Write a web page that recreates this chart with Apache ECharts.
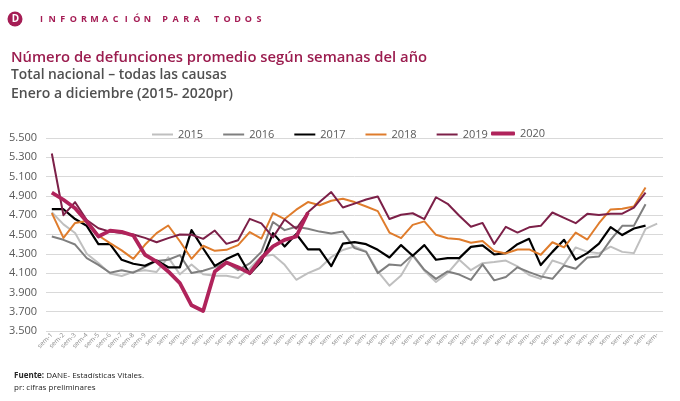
<!DOCTYPE html>
<html>
<head>
<meta charset="utf-8">
<script src="https://cdn.jsdelivr.net/npm/echarts@6/dist/echarts.min.js"></script>
<style>
html,body{margin:0;padding:0;background:#fff;}
#c{width:680px;height:401px;}
</style>
</head>
<body>
<div id="c"></div>
<script>
const weeks = [];
for (let i = 1; i <= 53; i++) weeks.push('sem-' + i);

const yTicks = [3500, 3700, 3900, 4100, 4300, 4500, 4700, 4900, 5100, 5300, 5500];

const s2015 = [4730,4605,4515,4300,4205,4095,4070,4113,4130,4112,4263,4087,4190,4087,4072,4072,4050,4150,4272,4290,4186,4031,4100,4150,4265,4340,4376,4324,4117,3970,4075,4280,4125,4008,4100,4238,4130,4203,4214,4230,4170,4080,4040,4230,4190,4366,4320,4305,4374,4320,4307,4558,4612];
const s2016 = [4479,4445,4396,4255,4186,4104,4130,4104,4165,4226,4238,4287,4100,4124,4162,4210,4130,4200,4320,4630,4545,4580,4560,4530,4510,4530,4359,4320,4100,4190,4180,4290,4134,4040,4117,4085,4030,4190,4025,4060,4160,4110,4066,4041,4179,4145,4262,4272,4445,4590,4590,4814];
const s2017 = [4762,4762,4660,4590,4400,4400,4238,4197,4176,4230,4160,4160,4545,4355,4175,4245,4300,4090,4220,4514,4376,4505,4345,4345,4172,4405,4421,4400,4341,4262,4390,4280,4390,4238,4255,4255,4372,4388,4293,4307,4400,4455,4183,4320,4445,4240,4307,4405,4576,4494,4562,4592];
const s2018 = [4721,4465,4620,4641,4490,4410,4335,4248,4393,4514,4593,4430,4248,4383,4331,4341,4390,4525,4458,4721,4660,4757,4836,4803,4850,4870,4836,4790,4742,4520,4462,4600,4636,4497,4462,4450,4415,4432,4328,4304,4345,4345,4290,4420,4366,4520,4448,4617,4760,4767,4790,4988];
const s2019 = [5340,4700,4835,4650,4565,4530,4515,4500,4465,4420,4462,4500,4497,4455,4541,4403,4440,4662,4615,4470,4655,4560,4730,4836,4940,4780,4820,4862,4893,4660,4705,4720,4660,4886,4818,4695,4580,4620,4402,4580,4520,4574,4590,4728,4672,4617,4714,4703,4716,4716,4778,4934];
const s2020 = [4935,4860,4772,4635,4480,4540,4527,4490,4290,4220,4117,3997,3766,3708,4117,4210,4160,4100,4255,4376,4445,4479,4728];

const seriesNames = ['2015','2016','2017','2018','2019','2020'];
const seriesData = [s2015, s2016, s2017, s2018, s2019, s2020];
const colors = ['#bfbfbf','#7f7f7f','#000000','#df7c2c','#7c2048','#b0235b'];
const widths = [2,2,2.2,2,2,3.8];

const chart = echarts.init(document.getElementById('c'), null, {renderer:'canvas'});
const FONT = '"Open Sans", "Noto Sans", sans-serif';

// header letters, spread out
const header = [];
const words = ['INFORMACIÓN', 'PARA', 'TODOS'];
const wordStarts = [41.5, 165, 216.5];
words.forEach((w, wi) => {
  for (let k = 0; k < w.length; k++) {
    header.push({ type: 'text', x: wordStarts[wi] + 10.6 * k, y: 19,
      style: { text: w[k], fill: '#a51d55', font: 'bold 9px ' + FONT, align: 'center', verticalAlign: 'middle' } });
  }
});

const legendText = { color: '#595959', fontSize: 11, fontFamily: FONT };

chart.setOption({
  animation: false,
  backgroundColor: '#ffffff',
  textStyle: { fontFamily: FONT },
  title: [
    { text: 'Número de defunciones promedio según semanas del año', left: 6, top: 45,
      textStyle: { color: '#9b1d4f', fontSize: 14.8, fontWeight: 600, fontFamily: FONT } },
    { text: 'Total nacional – todas las causas', left: 6, top: 63,
      textStyle: { color: '#505050', fontSize: 13.8, fontWeight: 600, fontFamily: FONT } },
    { text: 'Enero a diciembre (2015- 2020pr)', left: 6, top: 82,
      textStyle: { color: '#505050', fontSize: 14, fontWeight: 600, fontFamily: FONT } }
  ],
  graphic: [
    { type: 'circle', shape: { cx: 15, cy: 19, r: 7.5 }, style: { fill: '#a51d55' } },
    { type: 'text', x: 15.5, y: 19.5, style: { text: 'D', fill: '#ffffff', font: 'bold 10px ' + FONT, align: 'center', verticalAlign: 'middle' } },
    ...header,
    { type: 'text', left: 14, top: 372, style: { rich: { b: { font: 'bold 8px ' + FONT, fill: '#262626' }, n: { font: '8px ' + FONT, fill: '#262626' } }, text: '{b|Fuente:}{n| DANE- Estadísticas Vitales.}' } },
    { type: 'text', left: 14, top: 384, style: { text: 'pr: cifras preliminares', fill: '#262626', font: '8px ' + FONT } }
  ],
  legend: [
    { top: 124, left: 147, itemGap: 20, itemWidth: 21, itemHeight: 2, icon: 'rect',
      textStyle: legendText, data: ['2015','2016','2017','2018','2019'] },
    { top: 123, left: 486, itemWidth: 24, itemHeight: 4, icon: 'roundRect',
      textStyle: legendText, data: ['2020'] }
  ],
  grid: { left: 46, right: 17, top: 138, bottom: 70, containLabel: false },
  xAxis: {
    type: 'category', data: weeks, boundaryGap: true,
    axisLine: { show: false }, axisTick: { show: false },
    axisLabel: { rotate: 45, fontSize: 6.5, color: '#8c8c8c', interval: 0, margin: 3,
      formatter: function (v) { return v.length > 5 ? 'sem-' : v; } }
  },
  yAxis: {
    type: 'value', min: 3500, max: 5500, interval: 200,
    axisLine: { show: false }, axisTick: { show: false },
    splitLine: { lineStyle: { color: '#d9d9d9', width: 1 } },
    axisLabel: { color: '#595959', fontSize: 11, margin: 9,
      formatter: function (v) { return String(v).replace(/\B(?=(\d{3})+(?!\d))/g, '.'); } }
  },
  series: seriesNames.map((n, k) => ({
    name: n, type: 'line', data: seriesData[k], symbol: 'none',
    z: k + 2,
    lineStyle: { color: colors[k], width: widths[k], join: 'round' },
    itemStyle: { color: colors[k] }
  }))
});
</script>
</body>
</html>
